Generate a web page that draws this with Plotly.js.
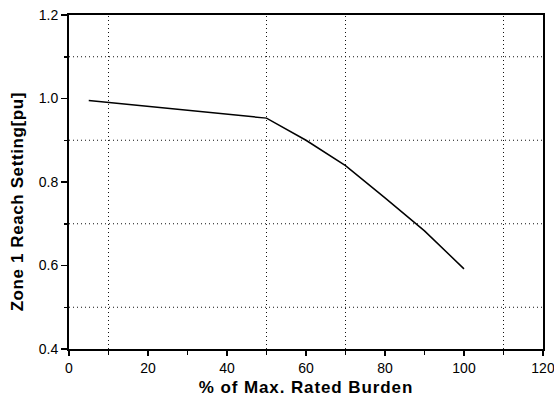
<!DOCTYPE html>
<html><head><meta charset="utf-8">
<script src="https://cdn.plot.ly/plotly-3.0.1.min.js"></script>
<style>html,body{margin:0;padding:0;background:#fff}
.xtitle{letter-spacing:0.9px}
.annotation-text{letter-spacing:0.6px}
</style>
</head><body>
<div id="chart" style="width:554px;height:403px"></div>
<script>
const burden = [5, 50, 60, 70, 80, 90, 100];
const reach = [0.995, 0.953, 0.900, 0.839, 0.762, 0.683, 0.592];
const xTicks = [0, 20, 40, 60, 80, 100, 120];
const yTicks = [0.4, 0.6, 0.8, 1.0, 1.2];
const yTickText = ['0.4', '0.6', '0.8', '1.0', '1.2'];
const xGrid = [10, 50, 70, 110];
const yGrid = [0.5, 0.7, 0.9, 1.1];

const trace = {x: burden, y: reach, mode: 'lines', line: {color: '#000', width: 1.5}, showlegend: false};
const fam = 'Liberation Sans, Arial, sans-serif';
const gridStyle = {color: '#111', width: 1, dash: '1px,3px'};
const shapes = [];
xGrid.forEach(v => shapes.push({type: 'line', xref: 'x', yref: 'paper', x0: v, x1: v, y0: 0, y1: 1, line: gridStyle, layer: 'below'}));
yGrid.forEach(v => shapes.push({type: 'line', xref: 'paper', yref: 'y', x0: 0, x1: 1, y0: v, y1: v, line: gridStyle, layer: 'below'}));

const layout = {
  width: 554, height: 403,
  margin: {l: 69, r: 11, t: 15, b: 54},
  paper_bgcolor: '#fff', plot_bgcolor: '#fff',
  font: {family: fam, color: '#000'},
  shapes: shapes,
  xaxis: {
    range: [0, 120], tickvals: xTicks, ticks: 'outside', ticklen: 5, tickwidth: 1.5, tickcolor: '#000',
    ticklabeloverflow: 'allow',
    showgrid: false, zeroline: false, showline: true, linecolor: '#000', linewidth: 2, mirror: true,
    tickfont: {size: 14, family: fam},
    minor: {tick0: 10, dtick: 20, ticks: 'outside', ticklen: 4, tickwidth: 1.5, tickcolor: '#000', showgrid: false},
    title: {text: '% of Max. Rated Burden', font: {size: 17, family: fam, weight: 'bold'}, standoff: 6}
  },
  yaxis: {
    range: [0.4, 1.2], tickvals: yTicks, ticktext: yTickText, ticks: 'outside', ticklen: 6, tickwidth: 1.5, tickcolor: '#000',
    ticklabeloverflow: 'allow',
    showgrid: false, zeroline: false, showline: true, linecolor: '#000', linewidth: 2, mirror: true,
    tickfont: {size: 14, family: fam},
    minor: {tick0: 0.5, dtick: 0.2, ticks: 'outside', ticklen: 3, tickwidth: 1.5, tickcolor: '#000', showgrid: false}
  },
  annotations: [{
    text: 'Zone 1 Reach Setting[pu]', textangle: -90, xref: 'paper', yref: 'paper',
    x: -0.109, y: 0.44, xanchor: 'center', yanchor: 'middle', showarrow: false,
    font: {size: 17, family: fam, weight: 'bold', color: '#000'}
  }]
};
Plotly.newPlot('chart', [trace], layout, {staticPlot: true, displayModeBar: false});
</script>
</body></html>
